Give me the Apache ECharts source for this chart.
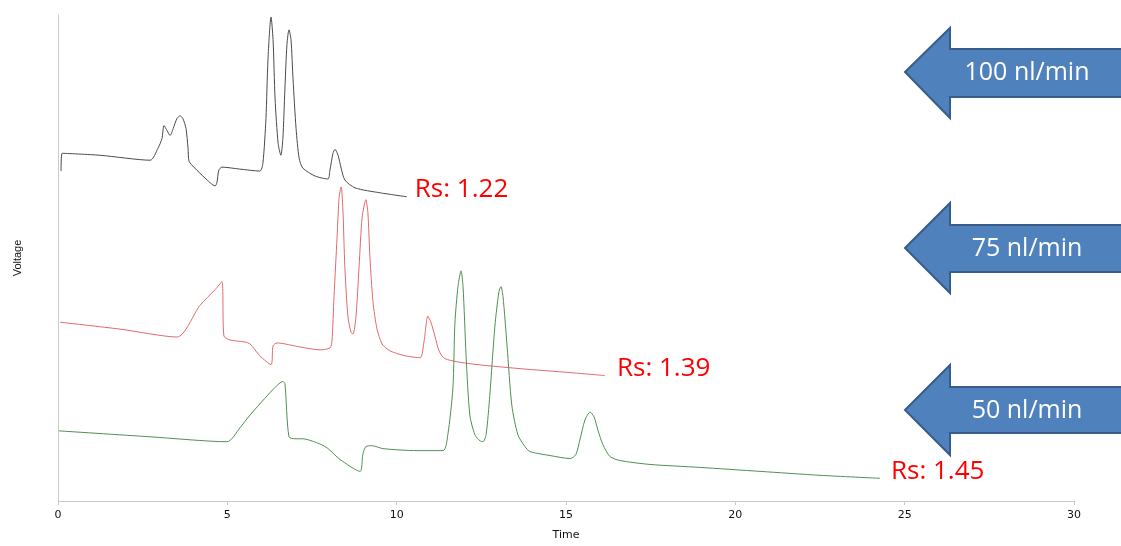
<!DOCTYPE html>
<html>
<head>
<meta charset="utf-8">
<script src="https://cdn.jsdelivr.net/npm/echarts@6/dist/echarts.min.js"></script>
<style>
html,body{margin:0;padding:0;background:#fff;}
#chart{width:1121px;height:546px;}
</style>
</head>
<body>
<div id="chart"></div>
<script>
// Time (min) and voltage (arbitrary units)
const trace100 = [
  [0.09,334],[0.12,352],[1.24,350],[2.72,345],[2.95,357],[3.07,367],[3.13,380],[3.22,375],
  [3.31,370],[3.40,377],[3.51,387],[3.60,390],[3.69,387],[3.78,377],[3.84,357],[3.87,344],
  [4.04,337],[4.34,327],[4.64,319],[4.69,322],[4.75,335],[4.84,338],[5.37,336],[5.96,334],
  [6.05,342],[6.14,387],[6.20,447],[6.29,490],[6.35,467],[6.41,407],[6.50,362],[6.58,350],
  [6.64,367],[6.70,417],[6.76,462],[6.82,477],[6.88,467],[6.94,427],[7.03,377],[7.12,347],
  [7.23,337],[7.59,329],[7.97,326],[8.03,335],[8.12,352],[8.18,356],[8.27,350],[8.36,337],
  [8.47,325],[8.77,317],[9.51,312],[10.30,308]
];
const trace75 = [
  [0.06,181],[1.83,174],[3.51,166],[4.19,198],[4.64,214],[4.84,222],[4.90,167],[5.08,163],
  [5.52,161],[5.67,159],[5.96,147],[6.29,138],[6.35,157],[6.47,160],[7.14,156],[7.74,153],
  [8.03,155],[8.09,162],[8.15,207],[8.24,267],[8.30,307],[8.36,318],[8.41,297],[8.47,237],
  [8.56,187],[8.65,171],[8.71,169],[8.80,187],[8.89,237],[8.98,287],[9.09,305],[9.15,292],
  [9.21,247],[9.30,202],[9.42,174],[9.57,159],[9.80,152],[10.25,147],[10.69,145],[10.81,162],
  [10.92,187],[11.01,181],[11.13,167],[11.25,152],[11.43,144],[12.16,139],[13.64,134],
  [15.12,130],[16.15,127]
];
const trace50 = [
  [0.03,71],[2.72,65],[4.99,60],[5.37,74],[5.67,87],[6.11,104],[6.41,115],[6.64,121],
  [6.70,119],[6.82,65],[7.00,63],[7.23,63],[7.64,59],[7.94,54],[8.33,42],[8.92,30],
  [9.00,47],[9.09,55],[9.27,56],[9.60,53],[10.60,51],[11.37,51],[11.51,67],[11.66,114],
  [11.72,180],[11.81,217],[11.90,233],[11.96,217],[12.05,147],[12.16,87],[12.31,67],
  [12.46,61],[12.55,60],[12.64,67],[12.75,107],[12.90,177],[13.02,212],[13.08,217],
  [13.14,207],[13.26,157],[13.40,97],[13.58,67],[13.79,55],[13.94,50],[14.53,46],[15.12,43],
  [15.29,47],[15.41,62],[15.56,82],[15.71,90],[15.83,85],[15.94,72],[16.09,57],[16.30,45],
  [16.59,41],[17.48,37],[18.95,34],[20.73,30],[22.50,26],[24.27,23]
];
const seriesNames = ['100 nl/min','75 nl/min','50 nl/min'];
const rsLabels = ['Rs: 1.22','Rs: 1.39','Rs: 1.45'];
const xTicks = [0,5,10,15,20,25,30];

const chart = echarts.init(document.getElementById('chart'));
const traces = [trace100, trace75, trace50];
const colors = ['#4a4a4a','#e06a6a','#4f8f4f'];
const labelDist = [8,12,11];

function arrow(yTip, yHeadTop, yShaftTop, yShaftBot, yHeadBot, text){
  return {
    type:'group',
    children:[
      {type:'polygon', shape:{points:[[905,yTip],[950,yHeadTop],[950,yShaftTop],[1125,yShaftTop],[1125,yShaftBot],[950,yShaftBot],[950,yHeadBot]]},
       style:{fill:'#4F81BD', stroke:'#385D8A', lineWidth:2}},
      {type:'text', x:1027, y:yTip+1, style:{text:text, fill:'#fff', font:'25px "Open Sans"', align:'center', verticalAlign:'middle'}}
    ]
  };
}

chart.setOption({
  animation:false,
  grid:{left:58, right:47, top:15, bottom:39},
  xAxis:{
    type:'value', min:0, max:30, interval:5,
    name:'Time', nameLocation:'middle', nameGap:29,
    nameTextStyle:{fontFamily:'DejaVu Sans', fontSize:11, color:'#111'},
    axisLine:{lineStyle:{color:'#c5cdc5', width:1}},
    axisTick:{show:true, length:4, lineStyle:{color:'#c5cdc5'}},
    axisLabel:{fontFamily:'DejaVu Sans', fontSize:11, color:'#111', margin:9,
      formatter:v=>xTicks.includes(v)?String(v):''},
    splitLine:{show:false}
  },
  yAxis:{
    type:'value', min:0, max:492,
    name:'Voltage', nameLocation:'middle', nameGap:35, nameRotate:90,
    nameTextStyle:{fontFamily:'Liberation Sans', fontSize:11, color:'#111'},
    axisLine:{show:true, lineStyle:{color:'#c5cdc5', width:1}},
    axisTick:{show:false}, axisLabel:{show:false}, splitLine:{show:false}
  },
  series: traces.map((d,i)=>({
    name:seriesNames[i], type:'line', data:d, showSymbol:false, smooth:0.25,
    lineStyle:{color:colors[i], width:1}, itemStyle:{color:colors[i]},
    endLabel:{show:true, formatter:rsLabels[i], color:'#ff0000',
      fontFamily:'Open Sans', fontSize:26, distance:labelDist[i], offset:[0,-7]}
  })),
  graphic: [
    arrow(72,28,49,97,118,seriesNames[0]),
    arrow(248,203,225,272,293,seriesNames[1]),
    arrow(410,365,387,433,455,seriesNames[2])
  ]
});
</script>
</body>
</html>
